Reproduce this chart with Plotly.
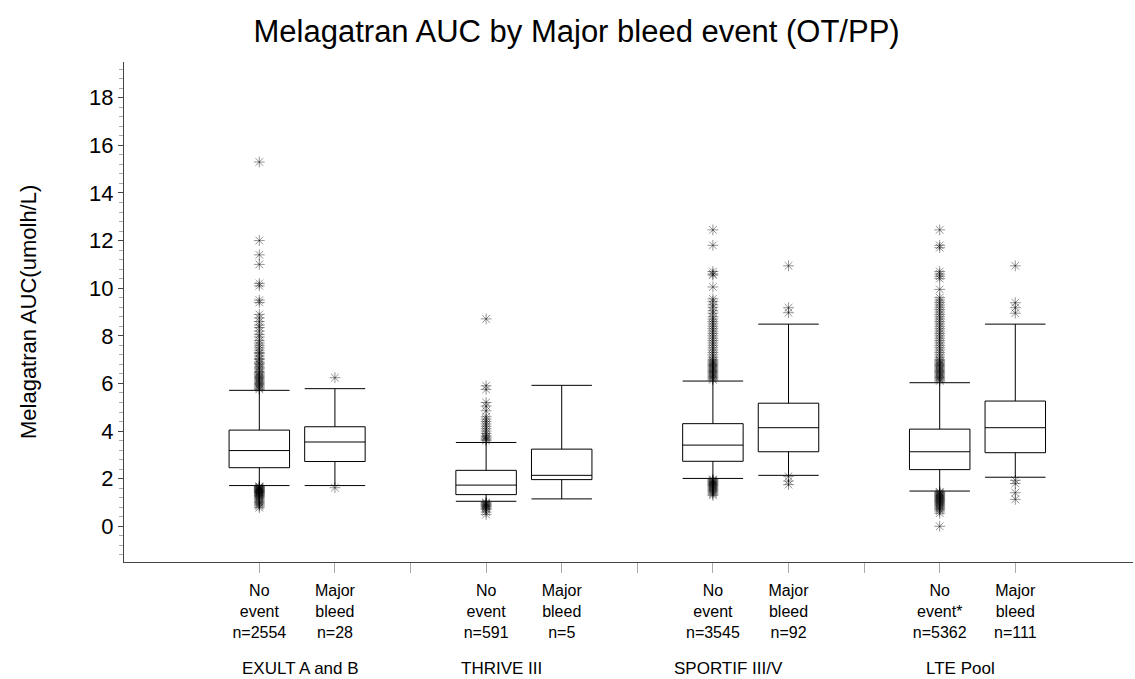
import plotly.graph_objects as go

# Study groups and the two boxes shown within each
studies = ["EXULT A and B", "THRIVE III", "SPORTIF III/V", "LTE Pool"]
box_names = ["No event", "Major bleed", "No event", "Major bleed",
             "No event", "Major bleed", "No event*", "Major bleed"]
n_counts = [2554, 28, 591, 5, 3545, 92, 5362, 111]

# Box summary statistics, Melagatran AUC (umolh/L)
lower_fence = [1.71, 1.71, 1.05, 1.15, 2.01, 2.14, 1.48, 2.06]
q1 = [2.46, 2.72, 1.33, 1.96, 2.73, 3.13, 2.38, 3.09]
median = [3.18, 3.54, 1.73, 2.14, 3.41, 4.14, 3.13, 4.14]
q3 = [4.04, 4.18, 2.35, 3.24, 4.31, 5.17, 4.08, 5.26]
upper_fence = [5.71, 5.78, 3.52, 5.92, 6.10, 8.49, 6.03, 8.49]

# Outlying observations per box
outliers = [
    [15.3, 12.0, 11.4, 11.0, 10.2, 10.1, 9.5, 9.4, 8.9, 8.75, 8.6, 8.45, 8.35,
     8.2, 8.05, 7.95, 7.8, 7.7, 7.6, 7.5, 7.4, 7.3, 7.25, 7.15, 7.05, 7.0, 6.9,
     6.85, 6.8, 6.7, 6.65, 6.6, 6.5, 6.45, 6.4, 6.35, 6.3, 6.25, 6.2, 6.15, 6.1,
     6.05, 6.0, 5.95, 5.9, 5.85, 5.8, 5.75,
     1.68, 1.66, 1.64, 1.62, 1.6, 1.58, 1.56, 1.54, 1.52, 1.5, 1.48, 1.46, 1.44,
     1.42, 1.4, 1.38, 1.35, 1.32, 1.3, 1.27, 1.24, 1.2, 1.15, 1.1, 1.05, 1.0,
     0.95, 0.9, 0.85, 0.78],
    [6.24, 1.62],
    [8.71, 5.9, 5.75, 5.2, 5.05, 4.85, 4.6, 4.5, 4.4, 4.3, 4.2, 4.1, 4.0, 3.9,
     3.8, 3.75, 3.7, 3.65, 3.6,
     1.0, 0.97, 0.94, 0.91, 0.88, 0.85, 0.82, 0.78, 0.74, 0.7, 0.6, 0.5],
    [],
    [12.45, 11.8, 10.7, 10.6, 10.55, 10.05, 9.55, 9.45, 9.3, 9.2, 9.05, 8.95,
     8.8, 8.7, 8.6, 8.5, 8.4, 8.3, 8.2, 8.1, 8.0, 7.9, 7.8, 7.7, 7.6, 7.5, 7.4,
     7.3, 7.2, 7.1, 7.0, 6.95, 6.9, 6.85, 6.8, 6.75, 6.7, 6.65, 6.6, 6.55, 6.5,
     6.45, 6.4, 6.35, 6.3, 6.25, 6.2, 6.15,
     1.97, 1.94, 1.91, 1.88, 1.85, 1.82, 1.79, 1.76, 1.73, 1.7, 1.66, 1.62,
     1.58, 1.54, 1.5, 1.45, 1.4, 1.35, 1.3],
    [10.94, 9.18, 8.97, 2.1, 1.9, 1.75],
    [12.45, 11.8, 11.7, 10.7, 10.6, 10.5, 10.4, 9.95, 9.6, 9.5, 9.4, 9.3, 9.2,
     9.1, 9.0, 8.9, 8.8, 8.7, 8.6, 8.5, 8.4, 8.3, 8.2, 8.1, 8.0, 7.9, 7.8, 7.7,
     7.6, 7.5, 7.4, 7.3, 7.2, 7.1, 7.0, 6.95, 6.9, 6.85, 6.8, 6.75, 6.7, 6.65,
     6.6, 6.55, 6.5, 6.45, 6.4, 6.35, 6.3, 6.25, 6.2, 6.15, 6.1,
     1.45, 1.42, 1.39, 1.36, 1.33, 1.3, 1.27, 1.24, 1.21, 1.18, 1.15, 1.12,
     1.09, 1.06, 1.03, 1.0, 0.96, 0.92, 0.88, 0.84, 0.8, 0.75, 0.7, 0.64, 0.55,
     0.0],
    [10.94, 9.39, 9.18, 8.95, 1.93, 1.8, 1.41, 1.13],
]

y_ticks = [0, 2, 4, 6, 8, 10, 12, 14, 16, 18]

FONT = "Liberation Sans, Arial, sans-serif"
OUTLIER_INK = "rgba(0,0,0,0.42)"

# Each study takes three slots on the x axis: two boxes and a separator tick
positions = [3 * g + 1 + k for g in range(len(studies)) for k in range(2)]
separators = [3 * g + 3 for g in range(len(studies) - 1)]

fig = go.Figure()

fig.add_trace(go.Box(
    x=positions, q1=q1, median=median, q3=q3,
    lowerfence=lower_fence, upperfence=upper_fence,
    width=0.8, whiskerwidth=1, boxpoints=False,
    fillcolor="white", line=dict(color="black", width=1),
    showlegend=False, hoverinfo="skip",
))

out_x, out_y = [], []
for pos, vals in zip(positions, outliers):
    out_x += [pos] * len(vals)
    out_y += vals

fig.add_trace(go.Scatter(
    x=out_x, y=out_y, mode="markers", showlegend=False, hoverinfo="skip",
    marker=dict(symbol="asterisk-open", size=9, color=OUTLIER_INK,
                line=dict(color=OUTLIER_INK, width=1)),
))

tick_vals = positions + separators
tick_text = [f"{name.replace(' ', '<br>')}<br>n={n}"
             for name, n in zip(box_names, n_counts)] + [""] * len(separators)

fig.update_layout(
    width=1135, height=679,
    margin=dict(l=124, r=2, t=62, b=117),
    paper_bgcolor="white", plot_bgcolor="white",
    font=dict(family=FONT, color="black"),
    title=dict(text="Melagatran AUC by Major bleed event (OT/PP)",
               x=0.508, xref="container", y=0.954, yref="container",
               xanchor="center", yanchor="middle",
               font=dict(size=31, family=FONT, color="black")),
    xaxis=dict(range=[-0.79, 12.557], showgrid=False, zeroline=False,
               showline=True, linecolor="#444", linewidth=1,
               tickmode="array", tickvals=tick_vals, ticktext=tick_text,
               ticks="outside", ticklen=10, tickcolor="#aaa",
               ticklabelstandoff=4,
               tickfont=dict(size=16, family=FONT, color="black")),
    yaxis=dict(range=[-1.5, 19.5], showgrid=False, zeroline=False,
               showline=True, linecolor="#444", linewidth=1,
               tickmode="array", tickvals=y_ticks,
               ticks="outside", ticklen=5, tickcolor="#444",
               minor=dict(dtick=0.4, tick0=0, ticks="outside", ticklen=4,
                          tickcolor="#aaa"),
               tickfont=dict(size=22, family=FONT, color="black")),
)

group_label_x = [1.55, 4.21, 7.21, 10.27]
for label, gx in zip(studies, group_label_x):
    fig.add_annotation(text=label, x=gx, xref="x", y=-0.212, yref="paper",
                       showarrow=False, xanchor="center", yanchor="middle",
                       font=dict(size=17, family=FONT, color="black"))

fig.add_annotation(text="Melagatran AUC(umolh/L)", textangle=-90,
                   x=-0.0951, xref="paper", y=0.5, yref="paper",
                   showarrow=False, xanchor="center", yanchor="middle",
                   font=dict(size=22, family=FONT, color="black"))

fig.write_html("out.html")
